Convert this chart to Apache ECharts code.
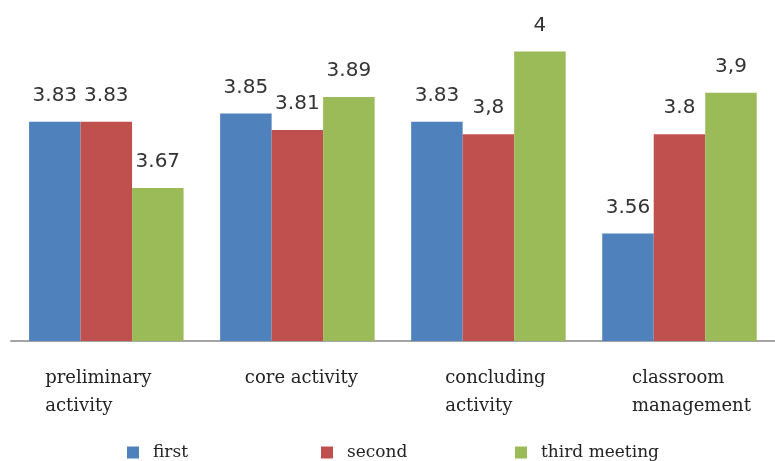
<!DOCTYPE html>
<html>
<head>
<meta charset="utf-8">
<script src="https://cdn.jsdelivr.net/npm/echarts@6/dist/echarts.min.js"></script>
<style>
  html, body { margin: 0; padding: 0; background: #ffffff; }
  #chart { width: 775px; height: 461px; }
</style>
</head>
<body>
<div id="chart"></div>
<script>
// Observation scores per activity, across three meetings
const categories = ['preliminary\nactivity', 'core activity', 'concluding\nactivity', 'classroom\nmanagement'];
const seriesNames = ['first', 'second', 'third meeting'];

const firstMeeting = [3.83, 3.85, 3.83, 3.56];
const secondMeeting = [3.83, 3.81, 3.8, 3.8];
const thirdMeeting = [3.67, 3.89, 4, 3.9];

// Value labels as printed on the bars
const firstLabels = ['3.83', '3.85', '3.83', '3.56'];
const secondLabels = ['3.83', '3.81', '3,8', '3.8'];
const thirdLabels = ['3.67', '3.89', '4', '3,9'];

const colors = ['#4F81BD', '#C0504D', '#9BBB59'];

// Horizontal nudge of each category caption block (px)
const captionShift = [-8, 4, 7, 12];

const chart = echarts.init(document.getElementById('chart'), null, { renderer: 'canvas' });

function barSeries(name, values, labels, color) {
  return {
    name: name,
    type: 'bar',
    data: values,
    barWidth: 51.5,
    barGap: '0%',
    itemStyle: { color: color },
    label: {
      show: true,
      position: 'top',
      distance: 16,
      fontFamily: 'DejaVu Sans',
      fontSize: 20,
      color: '#333333',
      formatter: p => labels[p.dataIndex]
    }
  };
}

function legendAt(name, left) {
  return {
    data: [name],
    left: left,
    top: 439,
    icon: 'rect',
    itemWidth: 12,
    itemHeight: 12,
    textStyle: {
      fontFamily: 'DejaVu Serif',
      fontSize: 17,
      color: '#222222',
      padding: [0, 0, 0, 9]
    }
  };
}

const categoryData = categories.map((c, i) => {
  const s = captionShift[i];
  return {
    value: c,
    textStyle: { padding: s >= 0 ? [0, 0, 0, 2 * s] : [0, -2 * s, 0, 0] }
  };
});

chart.setOption({
  backgroundColor: '#ffffff',
  animation: false,
  color: colors,
  grid: { left: 10.8, top: 10, width: 772, height: 331, containLabel: false },
  legend: [
    legendAt(seriesNames[0], 122),
    legendAt(seriesNames[1], 316),
    legendAt(seriesNames[2], 510)
  ],
  xAxis: {
    type: 'category',
    data: categoryData,
    axisLine: { show: true, lineStyle: { color: '#868686', width: 1.5 } },
    axisTick: { show: false },
    axisLabel: {
      margin: 23,
      align: 'center',
      formatter: v => v.split('\n').map(s => '{a|' + s + '}').join('\n'),
      rich: {
        a: {
          align: 'left',
          fontFamily: 'DejaVu Serif',
          fontSize: 18,
          lineHeight: 28,
          color: '#222222'
        }
      }
    }
  },
  yAxis: {
    type: 'value',
    min: 3.3,
    max: 4.1,
    show: false,
    splitLine: { show: false }
  },
  series: [
    barSeries(seriesNames[0], firstMeeting, firstLabels, colors[0]),
    barSeries(seriesNames[1], secondMeeting, secondLabels, colors[1]),
    barSeries(seriesNames[2], thirdMeeting, thirdLabels, colors[2])
  ]
});
</script>
</body>
</html>
